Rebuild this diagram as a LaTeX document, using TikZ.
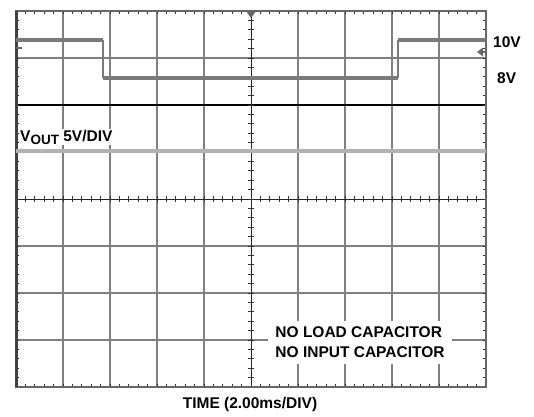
\documentclass[tikz,border=0pt]{standalone}
\usepackage{fontspec}
\setmainfont{Liberation Sans}
\usetikzlibrary{decorations.pathmorphing}

\begin{document}
\begin{tikzpicture}[x=1pt,y=-1pt,
gridline/.style={line width=1.8pt, black!50},
centerline/.style={line width=1pt, black!85},
refline/.style={line width=2.2pt, black},
frameline/.style={line width=2pt, black!60},
scaletick/.style={line width=0.8pt, black!80},
inputtrace/.style={line width=3.6pt, black!52},
outputtrace/.style={line width=3.6pt, black!30},
fuzz/.style={line width=1.4pt, decorate, decoration={random steps, segment length=3pt, amplitude=1pt}},
scopelabel/.style={font=\fontsize{15.5}{20}\selectfont\bfseries, inner sep=1pt}]

\useasboundingbox (0,0) rectangle (534,416);

% graticule
\foreach \k in {1,2,3,4,6,7,8,9}
    \draw[gridline] ({16+47*\k},11) -- ({16+47*\k},387);
\foreach \k in {1,3,5,6,7}
    \draw[gridline] (16,{11+47*\k}) -- (486,{11+47*\k});
\draw[refline] (16,105) -- (486,105);
\draw[centerline] (16,199) -- (486,199);
\draw[centerline] (251,11) -- (251,387);

\begin{scope}[scaletick]
    \foreach \i in {1,...,49} {
        \draw ({16+9.4*\i},11) -- ({16+9.4*\i},14);
        \draw ({16+9.4*\i},384) -- ({16+9.4*\i},387);
        \draw ({16+9.4*\i},196) -- ({16+9.4*\i},202);
    }
    \foreach \j in {1,...,39} {
        \draw (16,{11+9.4*\j}) -- (19,{11+9.4*\j});
        \draw (483,{11+9.4*\j}) -- (486,{11+9.4*\j});
        \draw (248,{11+9.4*\j}) -- (254,{11+9.4*\j});
    }
\end{scope}

\draw[frameline] (16,11) rectangle (486,387);
\draw[line width=3pt, black!75] (16,11) -- (16,387);

% traces
\draw[inputtrace] (16,40) -- (103,40);
\draw[inputtrace] (103,78) -- (398,78);
\draw[inputtrace] (398,40) -- (486,40);
\draw[inputtrace, line width=1.4pt] (103,40) -- (103,78);
\draw[inputtrace, line width=1.4pt] (398,78) -- (398,40);
\draw[inputtrace, fuzz] (16,40) -- (103,40);
\draw[inputtrace, fuzz] (103,78) -- (398,78);
\draw[inputtrace, fuzz] (398,40) -- (486,40);

\draw[outputtrace] (16,151) -- (486,151);
\draw[outputtrace, fuzz] (16,151) -- (486,151);

% markers
\fill[black!60] (246,11) -- (256,11) -- (251,18) -- cycle;
\fill[black!60] (477,52) -- (483,47.5) -- (483,56.5) -- cycle;
\draw[black!60, line width=1.6pt] (482,52) -- (486,52);
\draw[black!60, line width=1.6pt] (16,48) -- (22,48);

% labels
\node[scopelabel, fill=white, anchor=base west] (vout) at (19,141)
    {V{\fontsize{13.5}{14}\selectfont\raisebox{-3pt}{OUT}} 5V/DIV};
\node[scopelabel, anchor=west] (tenvolt) at (492,42) {10V};
\node[scopelabel, anchor=west] (eightvolt) at (496,78) {8V};
\node[scopelabel, fill=white, align=left, inner sep=0pt,
    minimum width=184pt, minimum height=43pt] (capnote) at (360,342)
    {NO LOAD CAPACITOR\\NO INPUT CAPACITOR};
\node[scopelabel] (timelabel) at (250,404) {TIME (2.00ms/DIV)};

\end{tikzpicture}
\end{document}
